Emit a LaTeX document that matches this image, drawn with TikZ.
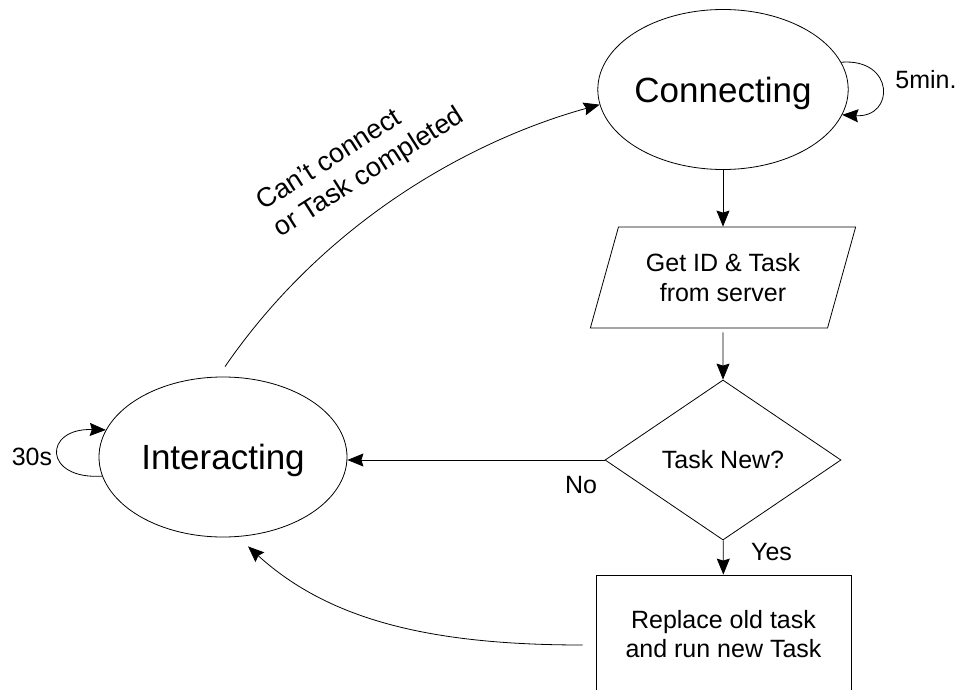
\documentclass[tikz,border=0pt]{standalone}
\usepackage{fontspec}
\setmainfont{Liberation Sans}
\usetikzlibrary{shapes.geometric,arrows.meta}
\begin{document}
\begin{tikzpicture}[x=1pt,y=-1pt,
  line width=0.8pt,
  >={Stealth[length=16pt,width=13pt,inset=2pt]},
  state/.style={ellipse,draw,inner sep=0pt,minimum width=248pt,minimum height=160pt,
    font=\fontsize{35}{42}\selectfont,text depth=0pt},
  io/.style={trapezium,draw,trapezium left angle=67,trapezium right angle=113,
    trapezium stretches=true,minimum width=266pt,minimum height=101pt,inner sep=0pt,
    align=center,font=\fontsize{25}{30.5}\selectfont},
  decision/.style={diamond,draw,inner sep=0pt,minimum width=236pt,minimum height=160pt,
    aspect=1.475,font=\fontsize{25}{30}\selectfont},
  action/.style={rectangle,draw,minimum width=255pt,minimum height=118pt,inner sep=0pt,
    align=center,font=\fontsize{25}{28.5}\selectfont},
  lbl/.style={inner sep=0pt,font=\fontsize{25}{30}\selectfont}]
\useasboundingbox (0,0) rectangle (961,690);
\clip (0,0) rectangle (961,690);

% states and flowchart steps
\node[state] (conn) at (723,89.5) {Connecting};
\node[state] (inter) at (223,457) {Interacting};
\node[io] (get) at (723,277.5) {Get ID \& Task\\from server};
\node[decision] (task) at (723,460) {Task New?};
\node[action] (box) at (723.5,634) {Replace old task\\and run new Task};

% labels
\node[lbl] (lno) at (581,485.5) {No};
\node[lbl] (lyes) at (771.5,552) {Yes};
\node[lbl] (l5) at (926,80) {5min.};
\node[lbl] (l30) at (32,456.5) {30s};
\node[lbl,rotate=32.5,align=left,font=\fontsize{27}{32}\selectfont] (lback) at (361,160)
  {Can’t connect\\or Task completed};

% connectors
\draw[->] (conn) -- (get);
\draw[->,shorten <=4pt] (get) -- (task);
\draw[->] (task.west) -- (task.west -| inter.east);
\draw[->] (task) -- (box);
\draw[->] ([xshift=-13pt,yshift=-11pt]box.west) .. controls (433,645) and (330,621)
  .. ([xshift=25pt,yshift=-9pt]inter.south);
\draw[->] ([xshift=2pt,yshift=10pt]inter.north) .. controls (326,220) and (472,140)
  .. (conn.187);
\draw[->] (conn.13) .. controls (895,58) and (895,118) .. (conn.-12);
\draw[->] (inter.189) .. controls (43,480) and (43,428) .. (inter.167);
\end{tikzpicture}
\end{document}
